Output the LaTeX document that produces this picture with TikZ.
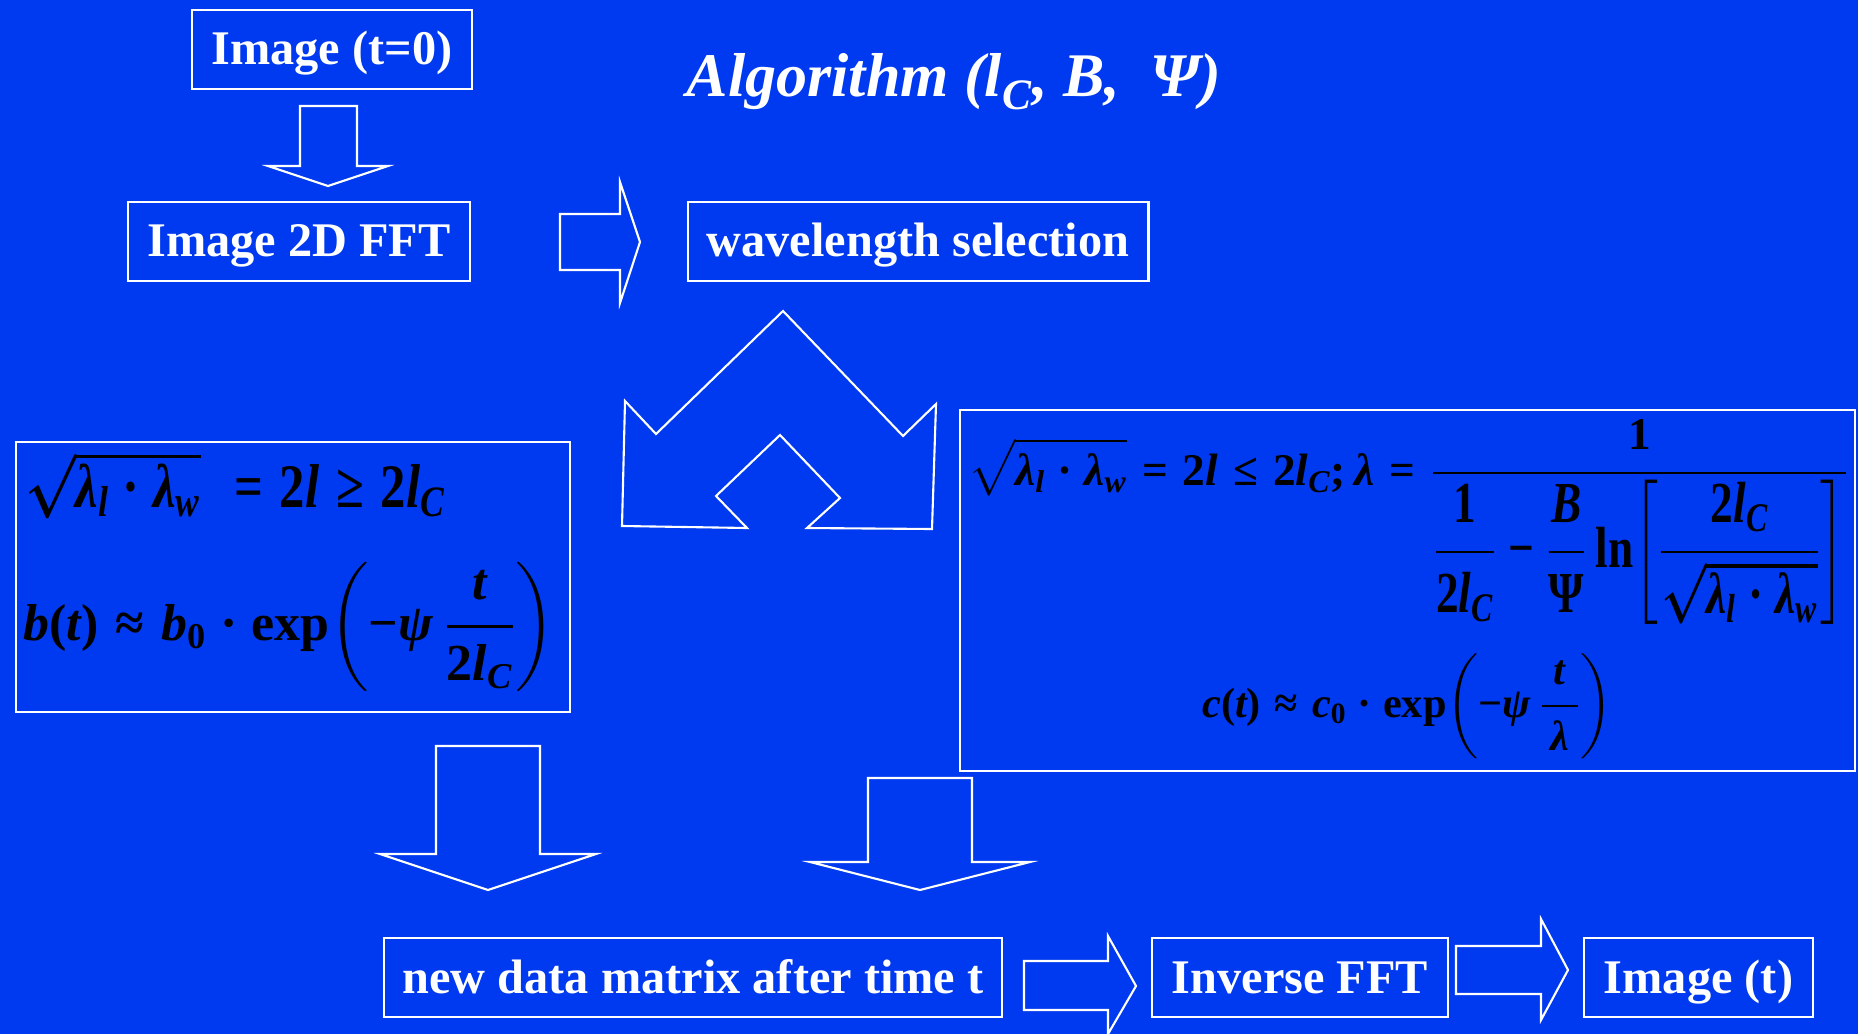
\documentclass[tikz,border=0pt]{standalone}
\usepackage{amsmath}
\usepackage{graphicx}
\usepackage[no-math]{fontspec}
\setmainfont{Liberation Serif}[NFSSFamily=libser]
\usetikzlibrary{positioning}

% Times-like bold math letters taken from the text font
\DeclareSymbolFont{operators}{TU}{libser}{bx}{n}
\SetSymbolFont{operators}{bold}{TU}{libser}{bx}{n}
\DeclareSymbolFont{tletters}{TU}{libser}{bx}{it}
\DeclareSymbolFont{tup}{TU}{libser}{bx}{n}
\DeclareMathSymbol{b}{\mathalpha}{tletters}{`b}
\DeclareMathSymbol{c}{\mathalpha}{tletters}{`c}
\DeclareMathSymbol{l}{\mathalpha}{tletters}{`l}
\DeclareMathSymbol{t}{\mathalpha}{tletters}{`t}
\DeclareMathSymbol{w}{\mathalpha}{tletters}{`w}
\DeclareMathSymbol{B}{\mathalpha}{tletters}{`B}
\DeclareMathSymbol{C}{\mathalpha}{tletters}{`C}
\Umathchardef\tlambda="7 \symtletters "03BB
\Umathchardef\tpsi="7 \symtletters "03C8
\Umathchardef\tPsi="7 \symtup "03A8
\Umathchardef\tcdot="2 \symtup "00B7
\Umathchardef\tminus="2 \symtup "2212
\Umathchardef\tapprox="3 \symtup "2248
\Umathchardef\tgeq="3 \symtup "2265
\Umathchardef\tleq="3 \symtup "2264

\definecolor{bgblue}{RGB}{0,58,240}

\begin{document}
\begin{tikzpicture}[
  x=0.02cm, y=-0.02cm,
  stage/.style={draw=white, line width=1.2pt, text=white, minimum height=1.58cm, inner sep=0pt,
    text height=0.75cm, text depth=0.13cm, font=\fontsize{27.5}{33}\selectfont\bfseries},
  formbox/.style={draw=white, line width=1.2pt, inner sep=0pt},
  formula/.style={anchor=base west, inner sep=0pt, text=black, font=\fontsize{20}{24}\selectfont},
  title/.style={anchor=base, inner sep=0pt, text=white, font=\fontsize{35.3}{42}\selectfont\bfseries\itshape},
  hollow/.style={draw=white, line width=1.2pt, line join=miter}
]
\fill[bgblue] (0,0) rectangle (1858,1034);
\useasboundingbox (0,0) rectangle (1858,1034);

% flow boxes
\node[stage, minimum width=5.6cm] (img0) at (332,49.5) {Image (t=0)};
\node[stage, minimum width=6.84cm] (fft) at (299,241.5) {Image 2D FFT};
\node[stage, minimum width=9.22cm] (wave) at (918,241.5) {wavelength selection};
\node[stage, minimum width=12.36cm] (newdata) at (693,977.5) {new data matrix after time t};
\node[stage, minimum width=5.92cm] (ifft) at (1300,977.5) {Inverse FFT};
\node[stage, minimum width=4.58cm] (imgt) at (1698.5,977.5) {Image (t)};

\node[title] (title) at (954,96) {Algorithm ($l_C$, B,\ \ Ψ)};

% formula boxes
\node[formbox, minimum width=11.08cm, minimum height=5.4cm] (lbox) at (293,577) {};
\node[formbox, minimum width=17.9cm, minimum height=7.22cm] (rbox) at (1407.5,590.5) {};

\node[formula] (lfa) at (25,507)
  {\scalebox{1}[1.22]{\resizebox{8.4cm}{!}{\boldmath$\sqrt{\tlambda_l\tcdot\tlambda_w}\;=2l\tgeq 2l_C$}}};
\node[formula] (lfb) at (23,640)
  {\resizebox{10.64cm}{!}{\boldmath$b(t)\tapprox b_0\tcdot\exp\!\left(\tminus\tpsi\,\dfrac{t}{2l_C}\right)$}};
\node[formula] (rfa) at (968,485)
  {\resizebox{17.6cm}{!}{\boldmath$\displaystyle\sqrt{\tlambda_l\tcdot\tlambda_w}=2l\tleq 2l_C;\tlambda=\frac{1}{\scalebox{1}[1.28]{$\displaystyle\frac{1}{2l_C}\tminus\frac{B}{\tPsi}\ln\!\left[\frac{2l_C}{\sqrt{\tlambda_l\tcdot\tlambda_w}}\right]$}}$}};
\node[formula] (rfb) at (1202,717)
  {\resizebox{8.2cm}{!}{\boldmath$\displaystyle c(t)\tapprox c_0\tcdot\exp\!\left(\tminus\tpsi\,\frac{\,t\,}{\,\tlambda\,}\right)$}};

% hollow block arrows
\draw[hollow] (300,106) -- (357,106) -- (357,166) -- (388,166) -- (328,186) -- (268,166) -- (300,166) -- cycle;
\draw[hollow] (560,214) -- (620,214) -- (620,182) -- (640,242) -- (620,303) -- (620,270) -- (560,270) -- cycle;
\draw[hollow] (622,526) -- (747,528) -- (716,496) -- (780,435) -- (840,498) -- (807,528) -- (932,529)
  -- (936,404) -- (903,436) -- (783,311) -- (656,434) -- (625,401) -- cycle;
\draw[hollow] (436,746) -- (540,746) -- (540,854) -- (596,854) -- (488,890) -- (380,854) -- (436,854) -- cycle;
\draw[hollow] (868,778) -- (972,778) -- (972,862) -- (1030,862) -- (920,890) -- (810,862) -- (868,862) -- cycle;
\draw[hollow] (1024,961) -- (1108,961) -- (1108,936) -- (1136,986) -- (1108,1034) -- (1108,1010) -- (1024,1010) -- cycle;
\draw[hollow] (1456,946) -- (1541,946) -- (1541,919) -- (1568,970) -- (1541,1020) -- (1541,994) -- (1456,994) -- cycle;
\end{tikzpicture}
\end{document}
